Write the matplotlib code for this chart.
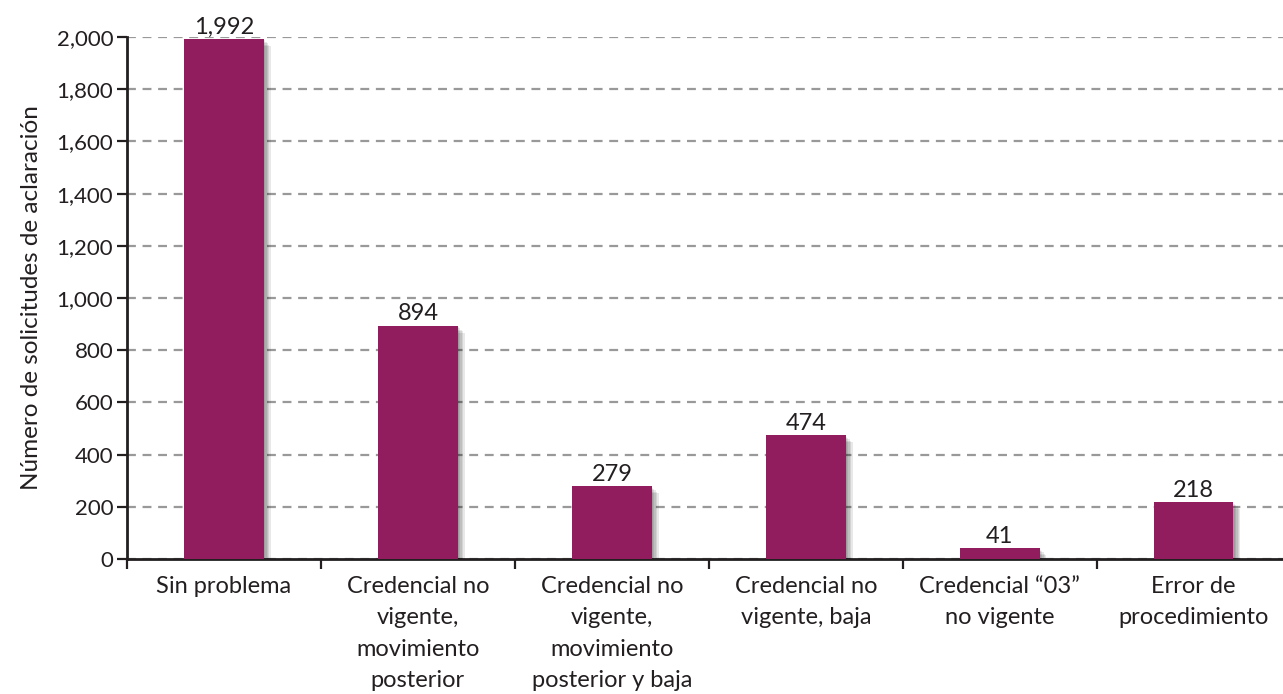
import matplotlib
matplotlib.use("Agg")
import matplotlib.pyplot as plt
import matplotlib.patheffects as pe
import numpy as np

categories = [
    "Sin problema",
    "Credencial no\nvigente,\nmovimiento\nposterior",
    "Credencial no\nvigente,\nmovimiento\nposterior y baja",
    "Credencial no\nvigente, baja",
    "Credencial \u201c03\u201d\nno vigente",
    "Error de\nprocedimiento",
]
values = [1992, 894, 279, 474, 41, 218]
y_ticks = [0, 200, 400, 600, 800, 1000, 1200, 1400, 1600, 1800, 2000]

plt.rcParams['font.family'] = ['Lato', 'DejaVu Sans']
dark = '#231f20'

fig = plt.figure(figsize=(12.83, 6.94), dpi=100)
ax = fig.add_axes([0.099, 0.1945, 0.907, 0.7522])

x = np.arange(len(categories))
bars = ax.bar(x, values, width=0.41, color='#921d5e', zorder=3)
# soft drop shadow
shadow = [pe.SimplePatchShadow(offset=(d, -d), shadow_rgbFace='#000000', alpha=0.09)
          for d in (1, 2, 3, 4, 5)]
for b in bars:
    b.set_path_effects(shadow + [pe.Normal()])

for xi, v in zip(x, values):
    ax.text(xi, v + 6, f"{v:,}", ha='center', va='bottom', fontsize=17, color=dark, zorder=4)

ax.set_xlim(-0.5, len(categories) - 0.5)
ax.set_ylim(0, 2000)
ax.set_yticks(y_ticks)
ax.set_yticklabels([f"{t:,}" for t in y_ticks], fontsize=16, color=dark)
ax.yaxis.grid(True, linestyle=(0, (4, 3)), color='#999999', linewidth=1.6, zorder=0)

ax.set_xticks(x)
ax.set_xticklabels(categories, fontsize=17, color=dark, linespacing=1.62, va='top')
ax.tick_params(axis='x', length=0, pad=12)
ax.set_xticks(np.arange(-0.5, len(categories), 1.0), minor=True)
ax.tick_params(axis='x', which='minor', length=7, width=1.6, color=dark, direction='out')
ax.tick_params(axis='y', length=7, width=1.6, color=dark, direction='out', pad=3)

for s in ['top', 'right']:
    ax.spines[s].set_visible(False)
for s in ['left', 'bottom']:
    ax.spines[s].set_linewidth(2)
    ax.spines[s].set_color(dark)

ax.set_ylabel("N\u00famero de solicitudes de aclaraci\u00f3n", fontsize=17.5, color=dark, labelpad=10)

fig.savefig("out.png", dpi=100)
